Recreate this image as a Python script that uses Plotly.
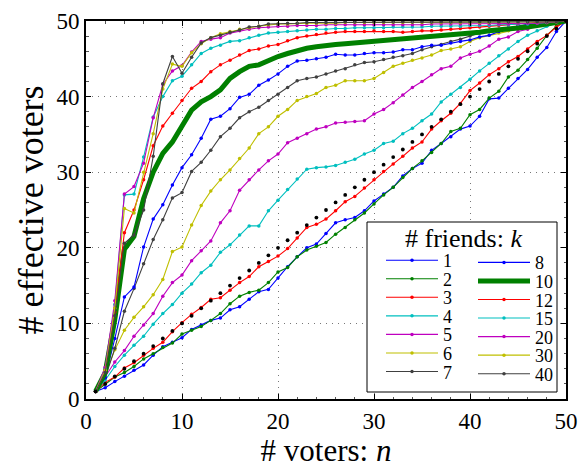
import plotly.graph_objects as go

n = list(range(1, 51))

k_labels = ["1", "2", "3", "4", "5", "6", "7", "8", "10", "12", "15", "20", "30", "40"]

y_k1 = [1.0, 1.5, 2.3, 3.0, 3.8, 4.5, 5.8, 6.9, 7.5, 8.1, 9.2, 9.8, 10.4, 10.7, 11.8, 12.2, 13.2, 14.2, 14.5, 16.0,
        17.5, 18.8, 20.0, 20.5, 21.9, 23.3, 23.7, 24.0, 24.9, 26.2, 27.1, 28.0, 29.5, 30.5, 31.2, 32.9, 33.8, 34.7, 35.7, 36.1,
        37.4, 39.7, 39.8, 41.1, 42.4, 43.6, 45.2, 46.5, 48.6, 50.0]
y_k2 = [1.0, 2.0, 2.9, 3.5, 4.3, 5.3, 6.0, 6.8, 7.4, 8.6, 9.1, 9.6, 10.4, 11.3, 12.6, 13.6, 14.1, 14.4, 15.4, 16.8,
        17.4, 18.8, 19.7, 20.2, 20.7, 21.8, 22.7, 23.7, 24.6, 25.8, 27.0, 28.0, 29.3, 30.5, 31.5, 32.6, 33.8, 35.4, 35.8, 37.6,
        38.3, 39.8, 40.7, 42.6, 43.5, 44.9, 46.4, 48.1, 49.3, 50.0]
y_k3 = [1.0, 2.2, 2.9, 4.1, 4.8, 5.8, 6.7, 7.5, 8.9, 10.1, 11.2, 12.1, 13.2, 13.4, 14.4, 15.4, 16.2, 17.5, 18.2, 18.9,
        19.9, 21.3, 22.7, 23.1, 23.8, 24.9, 26.1, 26.8, 27.9, 29.0, 30.1, 31.1, 32.1, 33.2, 34.0, 35.7, 36.8, 37.8, 39.1, 40.8,
        41.8, 42.9, 43.7, 44.6, 45.3, 46.3, 47.3, 48.1, 49.2, 50.0]
y_k4 = [1.0, 2.5, 4.3, 5.8, 7.1, 8.3, 9.9, 11.3, 12.5, 14.0, 15.2, 16.7, 17.7, 19.4, 20.4, 21.7, 22.9, 22.9, 24.9, 26.3,
        27.7, 29.1, 30.4, 30.6, 30.7, 30.9, 31.3, 31.7, 32.4, 32.9, 33.8, 34.1, 35.1, 35.8, 36.8, 37.7, 39.3, 40.3, 41.2, 42.3,
        43.4, 44.4, 45.4, 46.3, 47.3, 48.1, 48.7, 49.3, 49.8, 50.0]
y_k5 = [1.0, 2.9, 4.9, 6.4, 8.3, 9.8, 11.3, 13.6, 15.4, 16.4, 18.3, 19.6, 20.9, 23.3, 24.9, 27.6, 29.0, 30.3, 31.5, 32.4,
        33.9, 34.5, 35.1, 35.7, 36.0, 36.5, 36.6, 36.7, 36.8, 37.7, 38.3, 39.2, 40.2, 41.2, 42.0, 42.9, 43.7, 44.0, 45.1, 45.6,
        46.0, 46.7, 47.6, 47.9, 48.6, 48.9, 49.5, 49.7, 49.9, 50.0]
y_k6 = [1.0, 3.2, 6.5, 9.1, 10.8, 12.2, 13.8, 15.8, 19.5, 20.1, 23.0, 25.6, 27.5, 29.0, 30.3, 31.8, 33.2, 35.1, 36.0, 37.4,
        38.3, 39.5, 40.0, 40.4, 41.2, 41.5, 42.1, 42.1, 42.1, 42.4, 43.2, 44.0, 44.4, 44.8, 45.1, 45.5, 46.1, 46.3, 46.6, 47.3,
        47.8, 48.1, 48.4, 48.7, 49.0, 49.3, 49.5, 49.7, 49.9, 50.0]
y_k7 = [1.0, 2.8, 6.7, 11.6, 14.6, 17.9, 21.1, 23.7, 26.6, 27.3, 30.1, 31.3, 32.9, 34.7, 35.8, 37.2, 38.0, 38.6, 39.5, 40.3,
        41.2, 42.1, 42.4, 42.6, 43.0, 43.4, 43.7, 44.2, 44.5, 44.6, 44.9, 45.2, 45.4, 45.7, 46.2, 46.6, 46.9, 47.3, 47.6, 48.0,
        48.4, 48.6, 48.9, 49.1, 49.3, 49.6, 49.7, 49.8, 49.9, 50.0]
y_k8 = [1.0, 2.8, 8.0, 13.5, 14.8, 20.1, 23.8, 25.7, 28.3, 30.6, 32.3, 34.5, 37.0, 37.4, 38.4, 39.9, 40.3, 41.5, 42.2, 43.0,
        44.0, 44.7, 44.8, 45.0, 45.2, 45.6, 45.5, 45.5, 45.7, 45.8, 45.8, 45.9, 46.2, 46.2, 46.6, 46.8, 46.8, 47.1, 47.3, 47.5,
        47.9, 48.1, 48.6, 48.9, 49.3, 49.5, 49.7, 49.8, 49.9, 50.0]
y_k10 = [1.0, 3.5, 10.5, 19.8, 21.5, 26.5, 30.0, 32.5, 34.0, 36.0, 38.2, 39.3, 40.0, 40.9, 42.4, 43.3, 44.0, 44.2, 44.8, 45.3,
         45.7, 46.1, 46.4, 46.6, 46.8, 46.9, 47.0, 47.1, 47.2, 47.4, 47.5, 47.6, 47.7, 47.8, 47.9, 48.0, 48.1, 48.2, 48.3, 48.4,
         48.5, 48.7, 48.8, 48.9, 49.0, 49.2, 49.4, 49.6, 49.8, 50.0]
y_k12 = [1.0, 3.8, 11.5, 22.0, 25.0, 29.0, 33.5, 36.1, 37.8, 39.5, 41.1, 42.0, 43.3, 44.2, 44.8, 45.5, 46.1, 46.3, 46.7, 46.9,
         47.4, 47.8, 48.0, 48.2, 48.4, 48.5, 48.6, 48.6, 48.6, 48.7, 48.6, 48.6, 48.5, 48.6, 48.7, 48.7, 48.8, 48.9, 49.0, 49.1,
         49.2, 49.3, 49.4, 49.5, 49.6, 49.7, 49.8, 49.8, 49.9, 50.0]
y_k15 = [1.0, 4.0, 12.5, 27.0, 27.1, 32.0, 37.3, 40.0, 42.1, 42.7, 44.2, 45.7, 46.4, 46.8, 47.3, 47.4, 47.8, 48.1, 48.4, 48.5,
         48.6, 48.7, 48.8, 48.9, 48.9, 49.0, 49.0, 49.1, 49.1, 49.1, 49.1, 49.2, 49.2, 49.2, 49.2, 49.3, 49.3, 49.3, 49.3, 49.4,
         49.4, 49.4, 49.5, 49.5, 49.6, 49.6, 49.7, 49.8, 49.9, 50.0]
y_k20 = [1.0, 4.2, 13.0, 27.1, 28.1, 31.2, 37.2, 41.6, 43.4, 44.1, 45.9, 47.3, 47.6, 47.8, 48.4, 48.7, 48.9, 49.1, 49.2, 49.3,
         49.3, 49.4, 49.4, 49.4, 49.5, 49.5, 49.5, 49.5, 49.5, 49.5, 49.5, 49.5, 49.5, 49.5, 49.5, 49.6, 49.6, 49.6, 49.6, 49.6,
         49.6, 49.6, 49.6, 49.6, 49.7, 49.7, 49.7, 49.8, 49.9, 50.0]
y_k30 = [1.0, 3.8, 12.0, 25.2, 24.6, 30.0, 35.1, 41.0, 44.3, 44.0, 45.8, 47.0, 47.8, 48.3, 48.6, 48.9, 49.1, 49.3, 49.5, 49.6,
         49.6, 49.7, 49.7, 49.7, 49.7, 49.7, 49.8, 49.8, 49.8, 49.8, 49.8, 49.8, 49.8, 49.8, 49.8, 49.8, 49.8, 49.8, 49.8, 49.8,
         49.8, 49.8, 49.9, 49.9, 49.9, 49.9, 49.9, 49.9, 49.9, 50.0]
y_k40 = [1.0, 3.5, 11.0, 20.6, 21.7, 25.0, 32.1, 41.7, 45.3, 43.1, 45.2, 47.1, 47.8, 48.1, 48.5, 48.8, 49.2, 49.3, 49.6, 49.6,
         49.7, 49.7, 49.8, 49.8, 49.8, 49.8, 49.9, 49.9, 49.9, 49.9, 49.9, 49.9, 49.9, 49.9, 49.9, 49.9, 49.9, 49.9, 49.9, 49.9,
         49.9, 49.9, 49.9, 49.9, 49.9, 49.9, 49.9, 49.9, 49.9, 50.0]

diag_y = list(range(1, 51))  # reference: effective voters = voters

series = [y_k1, y_k2, y_k3, y_k4, y_k5, y_k6, y_k7, y_k8, y_k10, y_k12, y_k15, y_k20, y_k30, y_k40]

palette = ["rgb(0,0,255)", "rgb(0,128,0)", "rgb(255,0,0)", "rgb(0,191,191)",
           "rgb(191,0,191)", "rgb(191,191,0)", "rgb(64,64,64)"]

FONT = "Liberation Serif"

# plot area in pixels (for placing the legend block)
L, R, T, B = 86, 566, 21, 399
PW, PH = R - L, B - T


def px_x(p):
    return (p - L) / PW


def px_y(p):
    return (B - p) / PH


fig = go.Figure()
legend_layouts = {}
for i, (lab, ys) in enumerate(zip(k_labels, series)):
    col = palette[i % 7]
    thick = lab == "10"
    lname = "legend" if i == 0 else f"legend{i + 1}"
    fig.add_trace(go.Scatter(
        x=n, y=ys, name=lab, mode="lines" if thick else "lines+markers",
        line=dict(color=col, width=5 if thick else 1.1),
        marker=dict(color=col, size=3.5),
        legend=lname,
    ))
    col_idx, row = (0, i) if i < 7 else (1, i - 7)
    lx = 381 if col_idx == 0 else 473
    ly = (260.5 if col_idx == 0 else 262.7) + 18.55 * row
    legend_layouts[lname] = dict(
        x=px_x(lx), y=px_y(ly), xanchor="left", yanchor="middle",
        bgcolor="rgba(0,0,0,0)", borderwidth=0, itemwidth=52,
        font=dict(family=FONT, size=18, color="black"),
    )

fig.add_trace(go.Scatter(x=n, y=diag_y, mode="markers", showlegend=False,
                         marker=dict(color="black", size=3.8)))

axis_common = dict(
    range=[0, 50], dtick=10, showgrid=True, gridcolor="#777", griddash="1px,5px", gridwidth=1,
    showline=True, linecolor="black", linewidth=2, mirror="allticks",
    ticks="inside", ticklen=5, tickcolor="black", zeroline=False,
    tickfont=dict(family=FONT, size=23, color="black"),
    minor=dict(ticks="inside", ticklen=2.5, dtick=2, tickcolor="#555", showgrid=False),
)

fig.update_layout(
    width=578, height=468,
    margin=dict(l=L, r=578 - R, t=T, b=468 - B, autoexpand=False),
    paper_bgcolor="white", plot_bgcolor="white",
    font=dict(family=FONT, color="black"),
    xaxis=dict(axis_common, title=dict(text="# voters: <i>n</i>", font=dict(family=FONT, size=31), standoff=0)),
    yaxis=dict(axis_common, title=dict(text="# effective voters", font=dict(family=FONT, size=36), standoff=2)),
    showlegend=True,
    shapes=[dict(type="rect", xref="paper", yref="paper",
                 x0=px_x(367), x1=px_x(557), y0=px_y(392), y1=px_y(222),
                 fillcolor="white", line=dict(color="black", width=1), layer="above")],
    annotations=[dict(text="# friends: <i>k</i>", xref="paper", yref="paper",
                      x=px_x(463), y=px_y(238), xanchor="center", yanchor="middle",
                      showarrow=False, font=dict(family=FONT, size=26, color="black"))],
    **legend_layouts,
)

fig.write_html("out.html", config={"displayModeBar": False},
               post_script="document.body.style.margin='0';document.body.style.padding='0';")
